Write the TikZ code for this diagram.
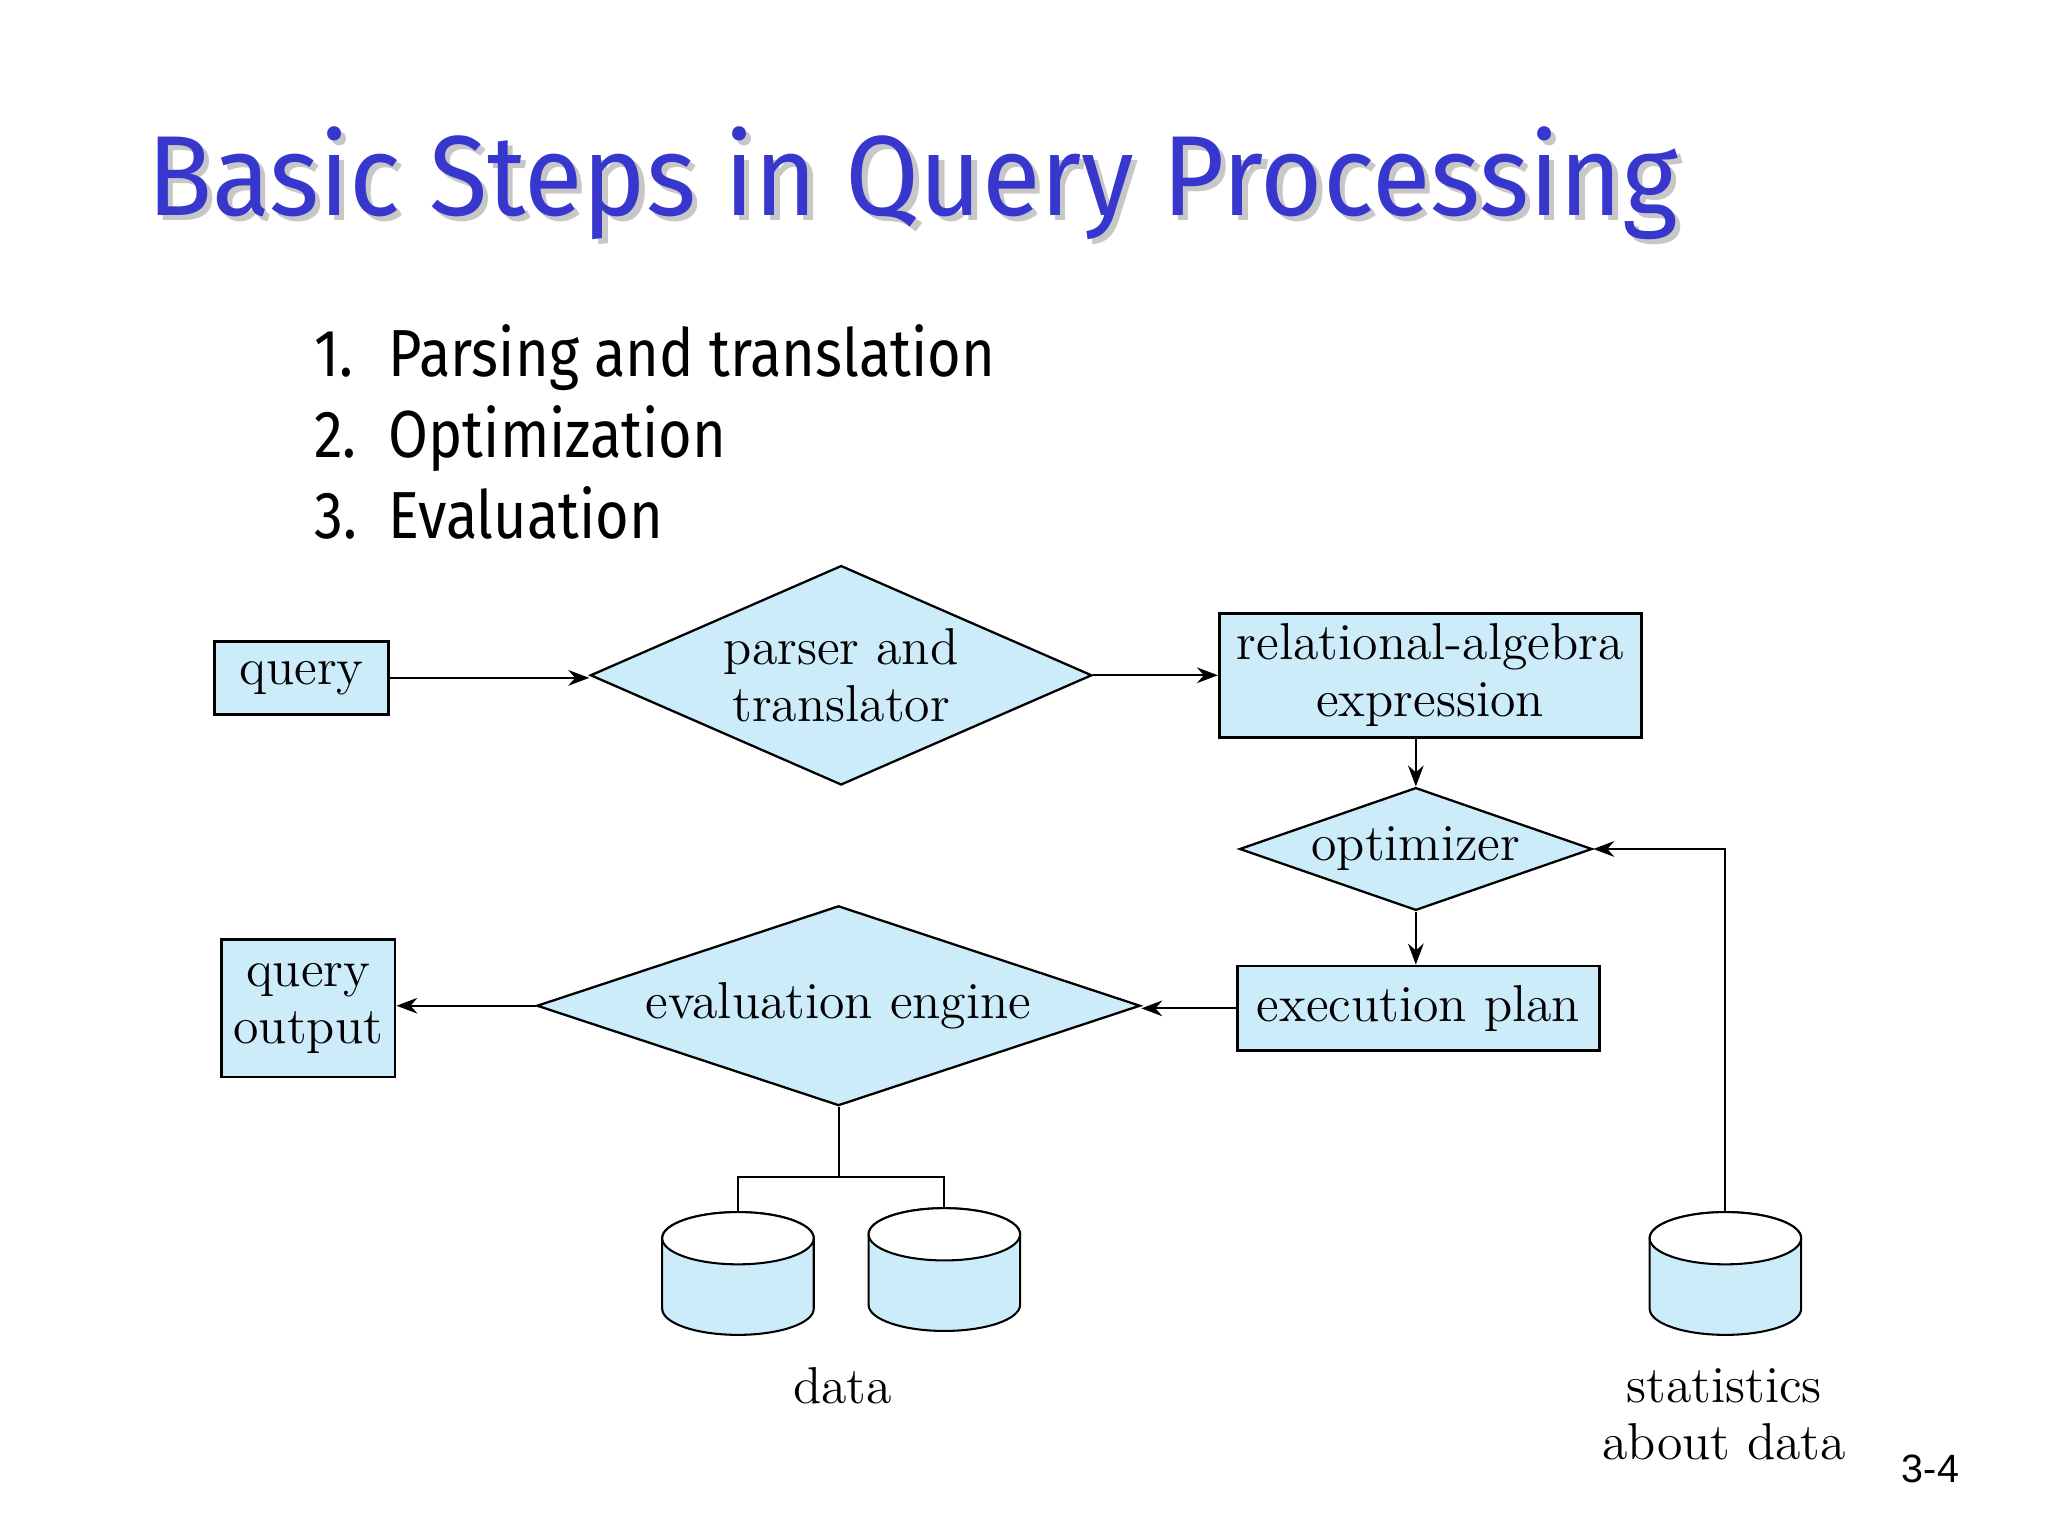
\documentclass[tikz,border=0pt]{standalone}
\usepackage{fontspec}
\usepackage{graphicx}
\usetikzlibrary{shapes.geometric,arrows.meta}
\newfontfamily\slidefont{Fira Sans}
\newfontfamily\pagefont{Liberation Sans}
\definecolor{boxblue}{RGB}{204,236,250}
\definecolor{titleblue}{RGB}{55,55,205}

% disk drawn from its top point: name, x, y
\newcommand{\dbdisk}[3]{%
  \draw[link, left color=boxblue, middle color=boxblue!25, right color=boxblue]
    ({#2-58},{#3+20}) -- ({#2-58},{#3+74})
    arc[start angle=180, end angle=0, x radius=58, y radius=20]
    -- ({#2+58},{#3+20})
    arc[start angle=0, end angle=-180, x radius=58, y radius=20] -- cycle;
  \draw[link, fill=white] (#2,{#3+20}) ellipse[x radius=58, y radius=20];
  \coordinate (#1) at (#2,#3);}

\begin{document}
\begin{tikzpicture}[x=0.1mm, y=-0.1mm,
    every node/.style={font=\fontsize{11.3}{12.4}\selectfont, align=center},
    procbox/.style={draw, line width=0.6pt, fill=boxblue, inner sep=0pt},
    procdiam/.style={diamond, draw, line width=0.5pt, fill=boxblue, inner sep=0pt},
    flow/.style={-{Stealth[length=1.6mm, width=1.2mm]}, line width=0.45pt},
    link/.style={line width=0.45pt},
    titletext/.style={anchor=base west, inner sep=0pt, font=\slidefont\fontsize{24.8}{28}\selectfont},
    slidetext/.style={anchor=base west, inner sep=0pt, font=\slidefont\fontsize{14.5}{17}\selectfont}]
  \useasboundingbox (0,0) rectangle (1568,1176);

  % title and steps
  \node[titletext, text=black!22] (titleshadow) at (116,169) {\scalebox{0.94}[1]{Basic Steps in Query Processing}};
  \node[titletext, text=titleblue] (title) at (112,165) {\scalebox{0.94}[1]{Basic Steps in Query Processing}};
  \node[slidetext] (step1) at (240,288) {\scalebox{0.867}[1]{\makebox[18.7pt][l]{1.}Parsing and translation}};
  \node[slidetext] (step2) at (240,350) {\scalebox{0.867}[1]{\makebox[18.7pt][l]{2.}Optimization}};
  \node[slidetext] (step3) at (240,412) {\scalebox{0.867}[1]{\makebox[18.7pt][l]{3.}Evaluation}};

  % flow
  \node[procbox, minimum width=13.3mm, minimum height=5.6mm] (query) at (231,519) {query};
  \node[procdiam, aspect=2.29, minimum width=38.4mm, minimum height=16.8mm] (parser) at (644,517) {parser and\\ translator};
  \node[procbox, minimum width=32.3mm, minimum height=9.5mm] (relalg) at (1095,517) {relational-algebra\\ expression};
  \node[procdiam, aspect=2.87, minimum width=27mm, minimum height=9.4mm] (optimizer) at (1084,650) {optimizer};
  \node[procbox, minimum width=27.7mm, minimum height=6.5mm] (execplan) at (1086,772) {execution plan};
  \node[procdiam, aspect=3.02, minimum width=46.2mm, minimum height=15.3mm] (evaleng) at (642,770) {evaluation engine};
  \node[procbox, minimum width=13.3mm, minimum height=10.5mm] (qoutput) at (236,772) {query\\ output};

  \dbdisk{data1}{565}{928}
  \dbdisk{data2}{723}{925}
  \dbdisk{stats}{1321}{928}

  \node (datalabel) at (645,1061) {data};
  \node (statslabel) at (1320,1083) {statistics\\ about data};
  \node[font=\pagefont\fontsize{8.6}{10}\selectfont] (pagenum) at (1478,1125) {3-4};

  \draw[flow] (query.east) -- (query.east -| parser.west);
  \draw[flow] (parser.east) -- (parser.east -| relalg.west);
  \draw[flow] (relalg.south -| optimizer.north) -- (optimizer.north);
  \draw[flow] (optimizer.south) -- (optimizer.south |- execplan.north);
  \draw[flow] (execplan.west) -- (execplan.west -| evaleng.east);
  \draw[flow] (evaleng.west) -- (evaleng.west -| qoutput.east);
  \draw[flow] (stats) |- (optimizer.east);
  \draw[link] (evaleng.south) -- ++(0,54) coordinate (split);
  \draw[link] (data1) |- (split) -| (data2);
\end{tikzpicture}
\end{document}
